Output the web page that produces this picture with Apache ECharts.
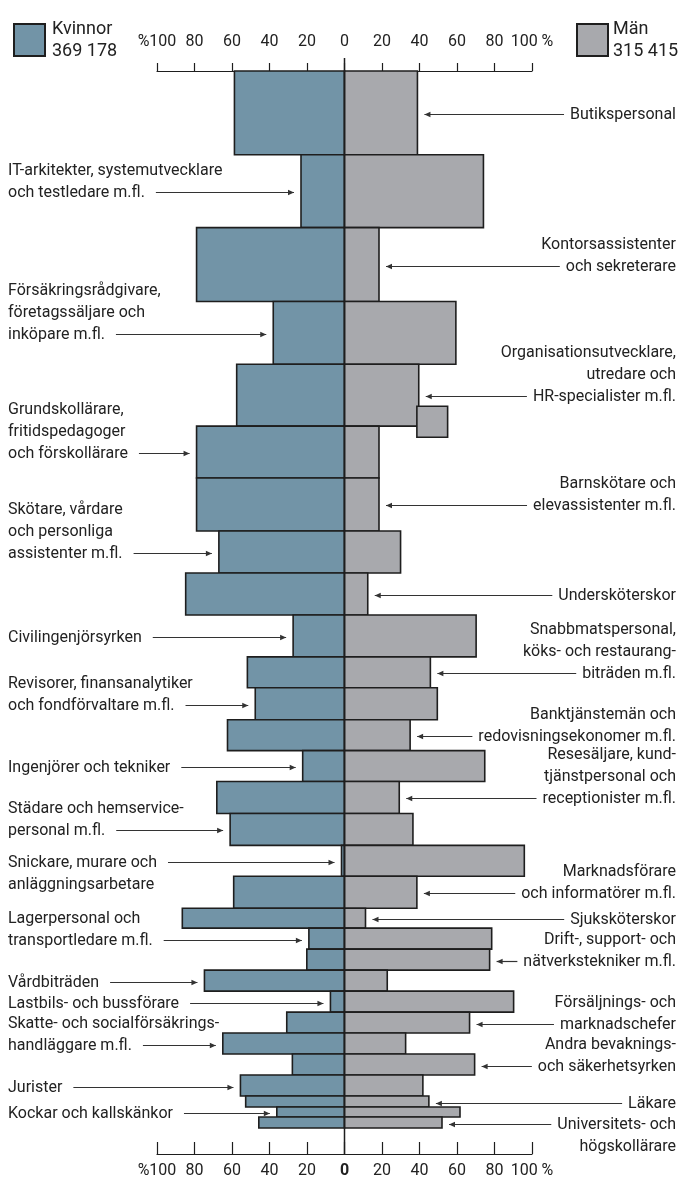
<!DOCTYPE html>
<html>
<head>
<meta charset="utf-8">
<title>Kvinnor och män i yrken</title>
<script src="https://cdn.jsdelivr.net/npm/echarts@6/dist/echarts.min.js"></script>
<style>
  html, body { margin: 0; padding: 0; background: #fff; }
  #main { width: 678px; height: 1179px; }
</style>
</head>
<body>
<div id="main"></div>
<script type="text/javascript">
    // yrken uppifrån och ned, radbrytningar som i förlagan
    var yrken = [
        'Butikspersonal',
        'IT-arkitekter, systemutvecklare\noch testledare m.fl.',
        'Kontorsassistenter\noch sekreterare',
        'Försäkringsrådgivare,\nföretagssäljare och\ninköpare m.fl.',
        'Organisationsutvecklare,\nutredare och\nHR-specialister m.fl.',
        'Grundskollärare,\nfritidspedagoger\noch förskollärare',
        'Barnskötare och\nelevassistenter m.fl.',
        'Skötare, vårdare\noch personliga\nassistenter m.fl.',
        'Undersköterskor',
        'Civilingenjörsyrken',
        'Snabbmatspersonal,\nköks- och restaurang-\nbiträden m.fl.',
        'Revisorer, finansanalytiker\noch fondförvaltare m.fl.',
        'Banktjänstemän och\nredovisningsekonomer m.fl.',
        'Ingenjörer och tekniker',
        'Resesäljare, kund-\ntjänstpersonal och\nreceptionister m.fl.',
        'Städare och hemservice-\npersonal m.fl.',
        'Snickare, murare och\nanläggningsarbetare',
        'Marknadsförare\noch informatörer m.fl.',
        'Sjuksköterskor',
        'Lagerpersonal och\ntransportledare m.fl.',
        'Drift-, support- och\nnätverkstekniker m.fl.',
        'Vårdbiträden',
        'Lastbils- och bussförare',
        'Försäljnings- och\nmarknadschefer',
        'Skatte- och socialförsäkrings-\nhandläggare m.fl.',
        'Andra bevaknings-\noch säkerhetsyrken',
        'Jurister',
        'Läkare',
        'Kockar och kallskänkor',
        'Universitets- och\nhögskollärare'
    ];
    // andel kvinnor resp. män, procent
    var kvinnorAndel = [58.7, 23.2, 78.9, 38.0, 57.5, 78.9, 78.9, 67.0, 84.7, 27.4,
                        51.8, 47.6, 62.4, 22.3, 68.1, 61.0, 1.6, 59.1, 86.5, 19.0,
                        20.1, 74.7, 7.5, 30.8, 64.9, 27.8, 55.5, 52.7, 36.1, 45.7];
    var manAndel = [38.9, 74.1, 18.4, 59.4, 39.6, 18.4, 18.4, 29.9, 12.4, 70.2,
                    45.8, 49.5, 35.0, 74.8, 29.2, 36.5, 95.9, 38.6, 11.2, 78.5,
                    77.4, 22.8, 90.2, 66.7, 32.6, 69.4, 41.8, 45.0, 61.6, 52.0];
    // antal anställda per yrke, tusental (ger stapelns höjd)
    var antalTusen = [54.3, 47.2, 47.8, 40.7, 40.1, 33.6, 34.3, 27.2, 27.2, 27.2,
                      20.0, 20.7, 20.0, 20.0, 20.7, 20.7, 20.0, 20.7, 12.9, 13.6,
                      13.6, 13.6, 13.6, 13.6, 13.6, 13.6, 13.6, 7.1, 6.5, 7.1];
    // vilken sida etiketten står på: v = vänster, h = höger
    var etikettSida = ['h','v','h','v','h','v','h','v','h','v',
                       'h','v','h','v','h','v','v','h','h','v',
                       'h','v','v','h','v','h','v','h','v','h'];
    // raden i etiketten som pilen utgår från (-1 = sista raden)
    var pilRad = [-1,-1,-1,-1,-1,-1,-1,-1,-1,-1,
                  -1,-1,-1,-1,-1,-1, 0,-1,-1,-1,
                  -1,-1,-1,-1,-1,-1,-1,-1,-1, 0];
    var axelVarden = [-100, -80, -60, -40, -20, 0, 20, 40, 60, 80, 100];
    var axelEtiketter = ['%100', '80', '60', '40', '20', '0', '20', '40', '60', '80', '100 %'];
    var totalKvinnor = 369178;
    var totalMan = 315415;
    // extra ruta vid organisationsutvecklare (andel män, från-till; läge i tusental)
    var extraRuta = [[38.6, 55.0, 217.2, 237.3]];

    var fargKvinnor = '#7294a7';
    var fargMan = '#a8a9ad';
    var kant = '#1e1e1e';
    var textFarg = '#222';
    var font = 'Roboto';

    // kumulativa lägen för raderna
    var rader = [];
    var acc = 0;
    for (var i = 0; i < yrken.length; i++) {
        rader.push([i, acc, acc + antalTusen[i], kvinnorAndel[i], manAndel[i]]);
        acc += antalTusen[i];
    }
    var totalAntal = acc;

    var mcanvas = document.createElement('canvas').getContext('2d');
    mcanvas.font = '16px ' + font;
    function textBredd(s) { return mcanvas.measureText(s).width; }

    function fmt(n) { return String(n).replace(/\B(?=(\d{3})+(?!\d))/g, ' '); }

    function stapel(tecken, farg) {
        return function (params, api) {
            var y0 = api.value(1), y1 = api.value(2);
            var v = tecken * api.value(3);
            var p0 = api.coord([0, y0]);
            var p1 = api.coord([v, y1]);
            return {
                type: 'rect',
                shape: {x: Math.min(p0[0], p1[0]), y: p0[1], width: Math.abs(p1[0] - p0[0]), height: p1[1] - p0[1]},
                style: {fill: farg, stroke: kant, lineWidth: 1.6}
            };
        };
    }

    function etikett(params, api) {
        var i = params.dataIndex;
        var mid = (api.value(1) + api.value(2)) / 2;
        var y = Math.round(api.coord([0, mid])[1]) + 1.5;
        var rad = yrken[i].split('\n');
        var k = pilRad[i] < 0 ? rad.length - 1 : pilRad[i];
        var lh = 22;
        var w = textBredd(rad[k]);
        var barn = [];
        var x0, x1, spets;
        if (etikettSida[i] === 'v') {
            var kantV = api.coord([-kvinnorAndel[i], 0])[0];
            barn.push({type: 'text', x: 8, y: y - k * lh - lh / 2,
                style: {text: yrken[i], fill: textFarg, fontSize: 16, fontFamily: font, align: 'left', verticalAlign: 'top', lineHeight: lh}});
            x0 = 8 + w + 11; x1 = kantV - 7;
            spets = [[x1, y], [x1 - 6, y - 2.8], [x1 - 6, y + 2.8]];
        } else {
            var kantH = api.coord([manAndel[i], 0])[0];
            barn.push({type: 'text', x: 676, y: y - k * lh - lh / 2,
                style: {text: yrken[i], fill: textFarg, fontSize: 16, fontFamily: font, align: 'right', verticalAlign: 'top', lineHeight: lh}});
            x0 = kantH + 7; x1 = 676 - w - 6;
            spets = [[x0, y], [x0 + 6, y - 2.8], [x0 + 6, y + 2.8]];
        }
        barn.push({type: 'line', shape: {x1: x0, y1: y, x2: x1, y2: y}, style: {stroke: '#333', lineWidth: 1.2}});
        barn.push({type: 'polygon', shape: {points: spets}, style: {fill: '#333'}});
        return {type: 'group', children: barn};
    }

    var myChart = echarts.init(document.getElementById('main'));

    var axelEtikett = function (v) {
        var idx = axelVarden.indexOf(Math.round(v));
        return idx < 0 ? '' : axelEtiketter[idx];
    };

    var option = {
        backgroundColor: '#fff',
        animation: false,
        textStyle: {fontFamily: font},
        legend: [
            {data: ['Kvinnor'], left: 8, top: 13, icon: 'rect', itemWidth: 31, itemHeight: 32, itemGap: 0,
             selectedMode: false, formatter: function (n) { return n + '\n' + fmt(totalKvinnor); },
             textStyle: {fontSize: 18, lineHeight: 22, color: textFarg, fontFamily: font, padding: [0, 0, 0, 2]}},
            {data: ['Män'], left: 571, top: 13, icon: 'rect', itemWidth: 31, itemHeight: 32, itemGap: 0,
             selectedMode: false, formatter: function (n) { return n + '\n' + fmt(totalMan); },
             textStyle: {fontSize: 18, lineHeight: 22, color: textFarg, fontFamily: font, padding: [0, 0, 0, 0]}}
        ],
        grid: {left: 157, right: 146, top: 71, bottom: 49},
        xAxis: [
            {type: 'value', min: -100, max: 100, interval: 20, position: 'top', offset: 13,
             axisLine: {show: true, lineStyle: {color: kant, width: 1.2}},
             axisTick: {show: true, length: 8, lineStyle: {color: kant, width: 1.2}},
             axisLabel: {margin: 8, fontSize: 16, color: textFarg, fontFamily: font, formatter: axelEtikett},
             splitLine: {show: false}},
            {type: 'value', min: -100, max: 100, interval: 20, position: 'bottom', offset: 26,
             axisLine: {show: true, lineStyle: {color: kant, width: 1.2}},
             axisTick: {show: true, inside: true, length: 12, lineStyle: {color: kant, width: 1.2}},
             axisLabel: {margin: 9, fontSize: 16, color: textFarg, fontFamily: font,
                 formatter: function (v) { var s = axelEtikett(v); return s === '0' ? '{b|0}' : s; },
                 rich: {b: {fontWeight: 'bold', fontSize: 16, fontFamily: font, color: textFarg}}},
             splitLine: {show: false}}
        ],
        yAxis: {type: 'value', inverse: true, min: 0, max: totalAntal, show: false},
        series: [
            {
                name: 'Kvinnor', type: 'custom', clip: false,
                itemStyle: {color: fargKvinnor, borderColor: kant, borderWidth: 1.5},
                encode: {x: 3, y: 1},
                renderItem: stapel(-1, fargKvinnor),
                data: rader.map(function (r) { return [r[0], r[1], r[2], r[3]]; })
            },
            {
                name: 'Män', type: 'custom', clip: false,
                itemStyle: {color: fargMan, borderColor: kant, borderWidth: 1.5},
                encode: {x: 3, y: 1},
                renderItem: stapel(1, fargMan),
                data: rader.map(function (r) { return [r[0], r[1], r[2], r[4]]; })
            },
            {
                name: 'extra', type: 'custom', clip: false,
                renderItem: function (params, api) {
                    var p0 = api.coord([api.value(0), api.value(2)]);
                    var p1 = api.coord([api.value(1), api.value(3)]);
                    return {type: 'rect', shape: {x: p0[0], y: p0[1], width: p1[0] - p0[0], height: p1[1] - p0[1]},
                        style: {fill: fargMan, stroke: kant, lineWidth: 1.6}};
                },
                data: extraRuta
            },
            {
                name: 'mittlinje', type: 'custom', clip: false, z: 5,
                renderItem: function (params, api) {
                    var a = api.coord([0, 0]);
                    var b = api.coord([0, totalAntal]);
                    return {type: 'line', shape: {x1: a[0], y1: a[1] - 13, x2: b[0], y2: b[1] + 26},
                        style: {stroke: kant, lineWidth: 1.5}};
                },
                data: [[0, 0]]
            },
            {
                name: 'etiketter', type: 'custom', clip: false, silent: true,
                encode: {x: 3, y: 1},
                renderItem: etikett,
                data: rader
            }
        ]
    };

    myChart.setOption(option);
</script>
</body>
</html>
